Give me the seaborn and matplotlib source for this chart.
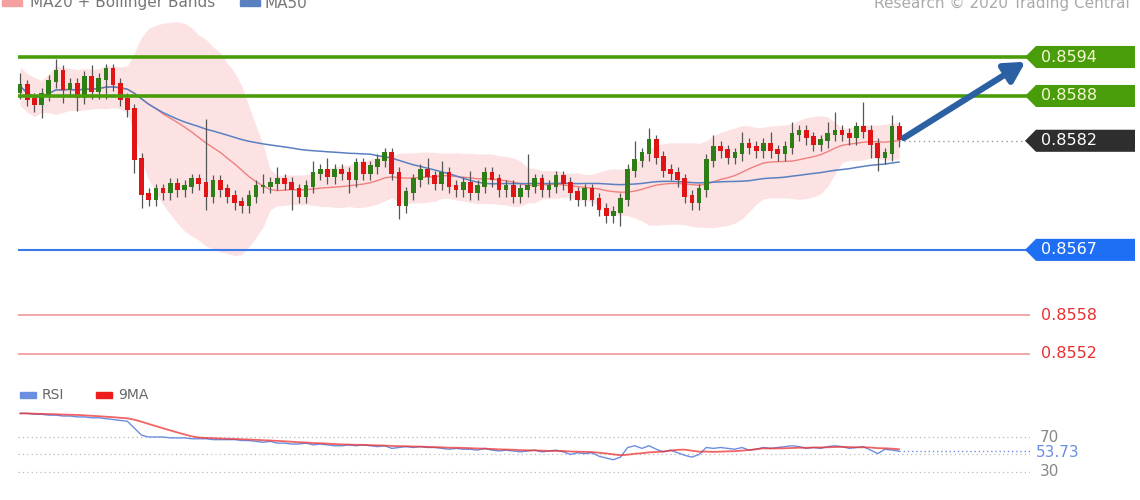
import numpy as np
import pandas as pd
import matplotlib
matplotlib.use("Agg")
import matplotlib.pyplot as plt
import seaborn as sns
from matplotlib.patches import Polygon
from matplotlib.transforms import blended_transform_factory

sns.set_theme(style="white")
plt.rcParams['font.family'] = ['DejaVu Sans']

# closes in pips above 0.8550
close_pips = [39.5,37.4,36.6,38.2,40.2,41.7,38.9,39.7,37.7,40.8,38.6,40.5,42.0,39.7,37.4,35.8,
              28.2,22.8,
              22.0,23.5,23.0,24.3,23.5,24.0,25.0,24.5,22.5,24.8,23.5,22.5,21.5,21.0,
              22.5,24.0,24.0,24.5,25.0,24.5,23.5,22.5,24.0,26.0,26.5,25.5,26.5,
              26.0,25.0,27.5,26.0,27.0,28.0,29.0,26.0,
              21.0,23.0,25.0,
              26.5,25.5,24.5,26.0,24.0,23.5,24.5,23.0,24.0,26.0,25.0,23.5,24.0,22.5,23.5,24.0,25.0,23.5,24.0,25.5,24.5,
              23.0,22.0,23.5,22.0,20.5,19.5,20.0,22.0,
              26.5,28.0,29.0,31.0,28.5,26.5,26.0,25.0,22.5,21.5,23.5,
              28.0,30.0,29.5,28.5,29.0,30.5,30.0,29.5,
              30.5,29.5,29.0,30.0,32.0,32.5,31.5,30.5,31.0,32.0,32.5,32.0,31.5,33.0,32.5,30.5,28.5,29.0,33.0,31.2]
wick_up = [2,1,1,1,1,2,1,1,1,1,2,1,1,1,1,1, 1,1, 1,1,1,1,1,1,1,1,10,1,1,1,1,1,
           1,1,2,1,2,1,1,1,1,2,1,2,1, 1,1,1,1,1,1,1,1, 1,1,1,
           1,2,1,2,1,1,1,2,1,1,1,1,1,1,1,5,1,1,1,1,1, 1,1,1,1,1,1,1,1,
           1,3,1,2,1,1,1,1,1,1,1, 1,2,1,1,1,2,1,1, 1,2,1,1,2,1,1,1,1,2,3,1,1,1,4,1,1,1,2,1]
wick_dn = [1,1,1,2,1,1,2,1,2,1,1,1,3,1,1,1, 2,2, 1,1,1,1,1,1,1,1,2,1,1,1,1,1,
           1,1,1,1,1,1,3,1,1,1,1,1,1, 1,2,1,1,1,1,1,1, 2,1,1,
           1,1,1,1,1,1,1,1,1,1,1,1,1,1,1,1,1,1,1,1,1, 1,1,1,1,1,1,1,2,
           1,1,1,1,1,1,1,1,1,1,1, 1,1,1,1,1,1,1,1, 1,1,1,1,1,1,1,1,1,1,1,1,1,1,1,2,2,1,1,1]
rsi = [97,97,96,96,95,95,94,94,93,93,92,92,91,90,89,88,
       80,72,
       70,70,70,69,69,69,68,68,68,67,67,67,67,66,
       66,65,64,65,63,63,62,62,63,61,62,61,60,
       60,61,60,61,60,59,60,57,
       58,59,58,
       59,58,58,57,56,57,56,56,55,57,55,54,55,54,53,54,55,53,54,55,53,
       50,52,51,52,48,46,44,47,
       58,60,57,60,56,53,55,52,49,47,50,
       58,57,58,57,56,58,55,56,
       58,57,58,59,60,59,57,58,57,59,60,59,57,58,59,55,51,56,55,53.73]

level_labels = ["0.8594", "0.8588", "0.8567", "0.8558", "0.8552"]
level_pos = [0.8594, 0.8588, 0.85643, 0.85542, 0.85483]
level_kind = ["green", "green", "blue", "red", "red"]
current_label = "0.8582"
current_pos = 0.85811
rsi_ticks = [70, 50, 30]

closes = 0.855 + np.array(close_pips) / 1e4
opens = np.concatenate([[0.8550 + 38.5/1e4], closes[:-1]])
highs = np.maximum(opens, closes) + np.array(wick_up) / 1e4
lows = np.minimum(opens, closes) - np.array(wick_dn) / 1e4
n = len(closes)
idx = np.arange(n)
df = pd.DataFrame({"i": idx, "c": closes})
df["ma20"] = df.c.rolling(20, min_periods=1).mean()
sd = df.c.rolling(20, min_periods=2).std().bfill()
df["up"] = df.ma20 + 2 * sd
df["dn"] = df.ma20 - 2 * sd
df["ma50"] = df.c.rolling(50, min_periods=1).mean()
rdf = pd.DataFrame({"i": idx, "rsi": rsi})
rdf["ma9"] = rdf.rsi.rolling(9, min_periods=1).mean()

W, H = 1140, 500
fig = plt.figure(figsize=(11.4, 5), dpi=100)
fig.patch.set_facecolor("white")
xl = (-0.3, 141.3)
ax = fig.add_axes([18/W, 1-370/H, (1030-18)/W, 350/H])
ax.set_xlim(*xl)
ax.set_ylim(0.85458, 0.85997)
ax.axis("off")

ax.fill_between(df.i, df.dn, df.up, color="#fbd9d9", alpha=0.75, lw=0, zorder=1)
sns.lineplot(data=df, x="i", y="ma20", ax=ax, color="#f08080", lw=1, zorder=2)
sns.lineplot(data=df, x="i", y="ma50", ax=ax, color="#5b80c2", lw=1.1, zorder=2)

cols = np.where(closes >= opens, "#2f7d16", "#e01414")
ax.vlines(idx, lows, highs, color="#555555", lw=0.9, zorder=3)
ax.bar(idx, np.abs(closes - opens) + 0.00003, bottom=np.minimum(opens, closes), width=0.65,
       color=cols, zorder=4, lw=0)

tr = blended_transform_factory(fig.transFigure, ax.transData)
hh = 0.00017
def tag(y, face, text, tcol="white"):
    x0, x1, tip = 1025/W, 1135/W, 1036/W
    pts = [(x0, y), (tip, y+hh), (x1, y+hh), (x1, y-hh), (tip, y-hh)]
    fig.patches.append(Polygon(pts, closed=True, transform=tr, facecolor=face, edgecolor="none"))
    t = fig.text(1041/W, 0, text, transform=tr, fontsize=11.5, color=tcol, va="center")
    t.set_position((1041/W, y))

for lab, pos, kind in zip(level_labels, level_pos, level_kind):
    if kind == "green":
        ax.axhline(pos, color="#4a9d0a", lw=2.6, zorder=5)
        tag(pos, "#4a9d0a", lab, "#f4f8d0")
    elif kind == "blue":
        ax.axhline(pos, color="#3a7ae8", lw=1.5, zorder=5)
        tag(pos, "#1f6ff5", lab)
    else:
        ax.axhline(pos, color="#f0a0a0", lw=1.3, zorder=5)
        t = fig.text(1041/W, 0, lab, transform=tr, fontsize=11.5, color="#e83030", va="center")
        t.set_position((1041/W, pos))

ax.plot([n - 1, 141.3], [current_pos, current_pos], ls=(0, (1, 2.5)), color="#999999", lw=1, zorder=5)
tag(current_pos, "#2e2e2e", current_label)
ax.annotate("", xy=(141.0, 0.85935), xytext=(n - 0.7, current_pos + 0.00002),
            arrowprops=dict(arrowstyle="-|>,head_length=1.0,head_width=0.55", color="#2b61a3", lw=4.5),
            zorder=6)

ytop = 1 - 3/H
fig.text(30/W, ytop, "MA20 + Bollinger Bands", color="#777777", fontsize=11, va="center")
fig.patches.append(plt.Rectangle((2/W, ytop - 0.005), 20/W, 0.01, transform=fig.transFigure, color="#f4a0a0"))
fig.text(265/W, ytop, "MA50", color="#777777", fontsize=11, va="center")
fig.patches.append(plt.Rectangle((240/W, ytop - 0.005), 20/W, 0.01, transform=fig.transFigure, color="#5b80c2"))
fig.text(1130/W, ytop, "Research © 2020 Trading Central", color="#aaaaaa", fontsize=11, va="center", ha="right")

# RSI panel
rx = fig.add_axes([18/W, 1-490/H, (1030-18)/W, 85/H])
rx.set_xlim(*xl)
rx.set_ylim(9.4, 106.6)
rx.axis("off")
for t in rsi_ticks:
    rx.axhline(t, color="#bbbbbb", ls=(0, (1, 2.5)), lw=0.9)
sns.lineplot(data=rdf, x="i", y="rsi", ax=rx, color="#6b8fe0", lw=1, zorder=3)
sns.lineplot(data=rdf, x="i", y="ma9", ax=rx, color="#ee3030", lw=1.3, alpha=0.75, zorder=4)
rx.plot([n - 1, 141.3], [rsi[-1], rsi[-1]], ls=(0, (1, 2)), color="#6b8fe0", lw=1)
rtr = blended_transform_factory(fig.transFigure, rx.transData)
for v in [70, 30]:
    t = fig.text(1040/W, 0, str(v), transform=rtr, color="#888888", fontsize=11, va="center")
    t.set_position((1040/W, v))
t = fig.text(1036/W, 0, f"{rsi[-1]:.2f}", transform=rtr, color="#6b8fe0", fontsize=11, va="center")
t.set_position((1036/W, rsi[-1] - 1))

fig.patches.append(plt.Rectangle((20/W, 1-398/H), 16/W, 6/H, transform=fig.transFigure, color="#6b8fe0"))
fig.text(42/W, 1-395/H, "RSI", color="#666666", fontsize=10, va="center")
fig.patches.append(plt.Rectangle((96/W, 1-398/H), 16/W, 6/H, transform=fig.transFigure, color="#ee1c1c"))
fig.text(118/W, 1-395/H, "9MA", color="#666666", fontsize=10, va="center")

fig.savefig("out.png", dpi=100)
